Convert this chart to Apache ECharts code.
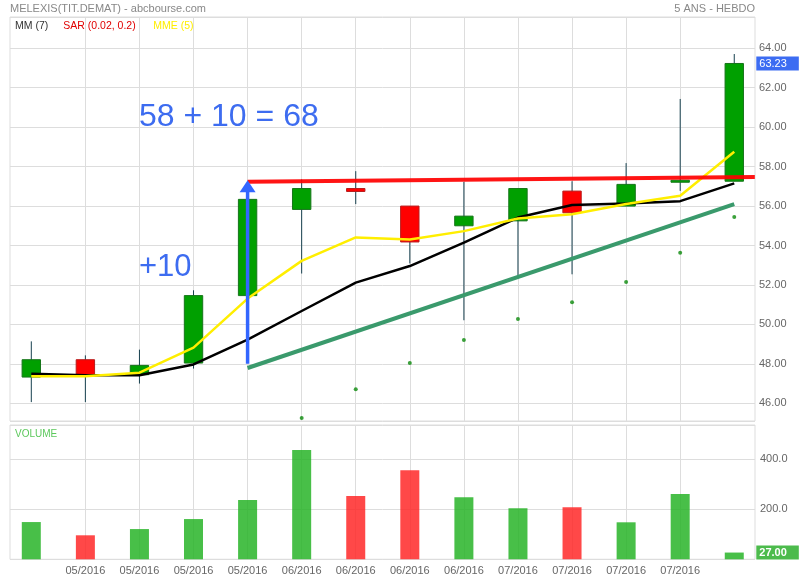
<!DOCTYPE html>
<html><head><meta charset="utf-8">
<script src="https://cdn.jsdelivr.net/npm/echarts@6/dist/echarts.min.js"></script>
<style>html,body{margin:0;padding:0;background:#fff}#c{width:800px;height:580px}</style>
</head><body><div id="c"></div>
<script>
// ---- data ----
const dateLabels = ['', '05/2016', '05/2016', '05/2016', '05/2016', '06/2016', '06/2016', '06/2016', '06/2016', '07/2016', '07/2016', '07/2016', '07/2016', ''];
const opens  = [47.33, 48.21, 47.45, 48.04, 51.46, 55.83, 56.89, 56.00, 55.00, 55.25, 56.76, 56.00, 57.23, 57.26];
const closes = [48.21, 47.45, 47.92, 51.46, 56.34, 56.89, 56.74, 54.18, 55.49, 56.89, 55.66, 57.10, 57.31, 63.23];
const lows   = [46.06, 46.06, 47.00, 47.76, 51.30, 52.58, 56.10, 53.09, 50.21, 52.49, 52.54, 56.00, 56.77, 57.26];
const highs  = [49.14, 48.43, 48.72, 51.73, 56.50, 57.35, 57.77, 56.00, 57.23, 56.89, 57.26, 58.18, 61.43, 63.71];
const mm7    = [47.50, 47.42, 47.42, 47.97, 49.23, 50.68, 52.12, 52.96, 54.15, 55.42, 56.05, 56.13, 56.25, 57.15];
const mme5   = [47.37, 47.37, 47.55, 48.82, 51.31, 53.22, 54.41, 54.30, 54.73, 55.37, 55.59, 56.10, 56.52, 58.75];
const sar    = [null, null, null, null, null, 45.25, 46.71, 48.04, 49.21, 50.27, 51.12, 52.15, 53.63, 55.45];
const volumes = [149, 96, 121, 161, 237, 437, 253, 356, 248, 204, 208, 148, 261, 27];
const resistanceLine = [[4, 57.23], [13.38, 57.48]];
const supportLine = [[4, 47.79], [13, 56.10]];
const arrowLine = [[4, 48.0], [4, 57.0]];
const gridCats = [1, 2, 3, 4, 5, 6, 7, 8, 9, 10, 11, 12];

// ---- styles ----
const FONT = 'Arial, "Liberation Sans", sans-serif';
const UP = '#00a000', UP_B = '#16751a', DOWN = '#ff0000', DOWN_B = '#b81c1c', WICK = '#17404f';
const VUP = 'rgba(40,180,40,0.85)', VDOWN = 'rgba(255,40,40,0.85)';
const GRIDC = '#dddddd';
const CLEAR = 'rgba(0,0,0,0)';

const candleData = opens.map((o, i) => [i, o, closes[i], lows[i], highs[i]]);
const idx = a => a.map((v, i) => [i, v]);
const lastClose = closes[closes.length - 1];
const lastVol = volumes[volumes.length - 1];

const boxLabel = (text, bg, bold) => ({
  show: true, position: 'end', distance: -5, formatter: () => text,
  color: '#fff', backgroundColor: bg, fontSize: 11, fontWeight: bold ? 'bold' : 'normal', fontFamily: FONT,
  lineHeight: 14, padding: [0, 12, 0, 3]
});

const chart = echarts.init(document.getElementById('c'), null, {renderer: 'canvas'});
chart.setOption({
  animation: false,
  backgroundColor: '#fff',
  grid: [
    {left: 10, right: 45, top: 17, height: 404, show: true, borderColor: GRIDC, borderWidth: 1},
    {left: 4.26, right: 38.7, top: 17, height: 404},
    {left: 10, right: 45, top: 425, height: 134.3, show: true, borderColor: GRIDC, borderWidth: 1},
    {left: 4.26, right: 38.7, top: 425, height: 134.3}
  ],
  xAxis: [
    {gridIndex: 0, type: 'value', show: false, min: 0, max: 1},
    {gridIndex: 1, type: 'value', show: false, min: -0.5, max: 13.5},
    {gridIndex: 2, type: 'value', show: false, min: 0, max: 1},
    {gridIndex: 3, type: 'category', data: dateLabels, boundaryGap: true,
      axisLine: {show: false}, axisTick: {show: false}, splitLine: {show: false},
      axisLabel: {interval: 0, color: '#666', fontSize: 11, fontFamily: FONT, margin: 6}}
  ],
  yAxis: [
    {gridIndex: 0, type: 'value', position: 'right', min: 45.102, max: 65.587, splitNumber: 10,
      axisLine: {show: false}, axisTick: {show: false},
      splitLine: {lineStyle: {color: GRIDC, width: 1}},
      axisLabel: {color: '#666', fontSize: 11, fontFamily: FONT, margin: 4, showMinLabel: false, showMaxLabel: false,
        formatter: v => v.toFixed(2)}},
    {gridIndex: 1, type: 'value', show: false, min: 45.102, max: 65.587},
    {gridIndex: 2, type: 'value', position: 'right', min: 0, max: 537.2, splitNumber: 3,
      axisLine: {show: false}, axisTick: {show: false},
      splitLine: {lineStyle: {color: GRIDC, width: 1}},
      axisLabel: {color: '#666', fontSize: 11, fontFamily: FONT, margin: 5, showMinLabel: false, showMaxLabel: false,
        formatter: v => v.toFixed(1)}},
    {gridIndex: 3, type: 'value', show: false, min: 0, max: 537.2}
  ],
  series: [
    {
      name: 'SAR', type: 'scatter', xAxisIndex: 1, yAxisIndex: 1, z: 3,
      data: idx(sar).filter(d => d[1] != null), symbol: 'circle', symbolSize: 4,
      itemStyle: {color: '#0b8a0b'},
      markLine: {silent: true, symbol: 'none', z: 0, label: {show: false},
        lineStyle: {color: GRIDC, width: 1, type: 'solid'},
        data: gridCats.map(i => ({xAxis: i}))}
    },
    {
      name: 'candles', type: 'custom', xAxisIndex: 1, yAxisIndex: 1, z: 2,
      data: candleData,
      renderItem: function (params, api) {
        const x = api.value(0), o = api.value(1), c = api.value(2), l = api.value(3), h = api.value(4);
        const pO = api.coord([x, o]), pC = api.coord([x, c]), pL = api.coord([x, l]), pH = api.coord([x, h]);
        const w = api.size([1, 0])[0] * 0.34;
        const up = c >= o;
        const top = Math.min(pO[1], pC[1]);
        const hgt = Math.max(Math.abs(pO[1] - pC[1]), 2);
        return {
          type: 'group',
          children: [
            {type: 'line', shape: {x1: pH[0], y1: pH[1], x2: pL[0], y2: pL[1]},
              style: {stroke: WICK, lineWidth: 1}},
            {type: 'rect', shape: {x: pO[0] - w / 2, y: top, width: w, height: hgt},
              style: {fill: up ? UP : DOWN, stroke: up ? UP_B : DOWN_B, lineWidth: 1}}
          ]
        };
      }
    },
    {
      name: 'MM (7)', type: 'line', xAxisIndex: 1, yAxisIndex: 1, z: 3,
      data: idx(mm7), showSymbol: false, symbol: 'none',
      lineStyle: {color: '#000', width: 2.5},
      markLine: {silent: true, symbol: 'none', z: 9, lineStyle: {color: CLEAR, width: 0},
        label: boxLabel(lastClose.toFixed(2), '#3c6cf2', false),
        data: [{yAxis: lastClose}]}
    },
    {
      name: 'MME (5)', type: 'line', xAxisIndex: 1, yAxisIndex: 1, z: 4,
      data: idx(mme5), showSymbol: false, symbol: 'none',
      lineStyle: {color: '#ffee00', width: 2.5}
    },
    {
      name: 'support', type: 'line', xAxisIndex: 1, yAxisIndex: 1, z: 5,
      data: supportLine, showSymbol: false, symbol: 'none',
      lineStyle: {color: '#3a9a6c', width: 4}
    },
    {
      name: 'resistance', type: 'line', xAxisIndex: 1, yAxisIndex: 1, z: 6,
      data: resistanceLine, showSymbol: false, symbol: 'none',
      lineStyle: {color: 'rgba(255,0,0,0.92)', width: 4}
    },
    {
      name: 'arrow', type: 'line', xAxisIndex: 1, yAxisIndex: 1, z: 7,
      data: [
        {value: arrowLine[0], symbol: 'none'},
        {value: arrowLine[1], symbol: 'triangle', symbolSize: [16, 12]}
      ],
      showSymbol: true, showAllSymbol: true,
      itemStyle: {color: '#3366ff'},
      lineStyle: {color: '#3366ff', width: 3.5}
    },
    {
      name: 'volume', type: 'bar', xAxisIndex: 3, yAxisIndex: 3, z: 2,
      barWidth: 19,
      data: volumes.map((v, i) => ({value: v, itemStyle: {color: closes[i] >= opens[i] ? VUP : VDOWN}})),
      markLine: {silent: true, symbol: 'none', z: 0,
        lineStyle: {color: GRIDC, width: 1, type: 'solid'},
        label: {show: false},
        data: gridCats.map(i => ({xAxis: i})).concat([
          {yAxis: lastVol, lineStyle: {color: CLEAR, width: 0}, label: boxLabel(lastVol.toFixed(2), '#4cbb4c', true)}
        ])}
    }
  ],
  graphic: [
    {type: 'text', x: 10, y: 9, silent: true, style: {text: 'MELEXIS(TIT.DEMAT) - abcbourse.com', fill: '#888', font: '11px ' + FONT, verticalAlign: 'middle', align: 'left'}},
    {type: 'text', x: 755, y: 9, silent: true, style: {text: '5 ANS - HEBDO', fill: '#888', font: '11px ' + FONT, verticalAlign: 'middle', align: 'right'}},
    {type: 'text', x: 15, y: 26, silent: true, style: {text: 'MM (7)', fill: '#333', font: '10.5px ' + FONT, verticalAlign: 'middle', align: 'left'}},
    {type: 'text', x: 63.3, y: 26, silent: true, style: {text: 'SAR (0.02, 0.2)', fill: '#e00000', font: '10.5px ' + FONT, verticalAlign: 'middle', align: 'left'}},
    {type: 'text', x: 153.3, y: 26, silent: true, style: {text: 'MME (5)', fill: '#ffee00', font: '10.5px ' + FONT, verticalAlign: 'middle', align: 'left'}},
    {type: 'text', x: 15, y: 434, silent: true, style: {text: 'VOLUME', fill: '#5cc85c', font: '10px ' + FONT, verticalAlign: 'middle', align: 'left'}},
    {type: 'text', x: 139, y: 116.7, silent: true, z: 10, style: {text: '58 + 10 = 68', fill: '#3d6cf0', font: '32px ' + FONT, verticalAlign: 'middle', align: 'left'}},
    {type: 'text', x: 139, y: 267.3, silent: true, z: 10, style: {text: '+10', fill: '#3d6cf0', font: '31px ' + FONT, verticalAlign: 'middle', align: 'left'}}
  ]
});
</script>
</body></html>
